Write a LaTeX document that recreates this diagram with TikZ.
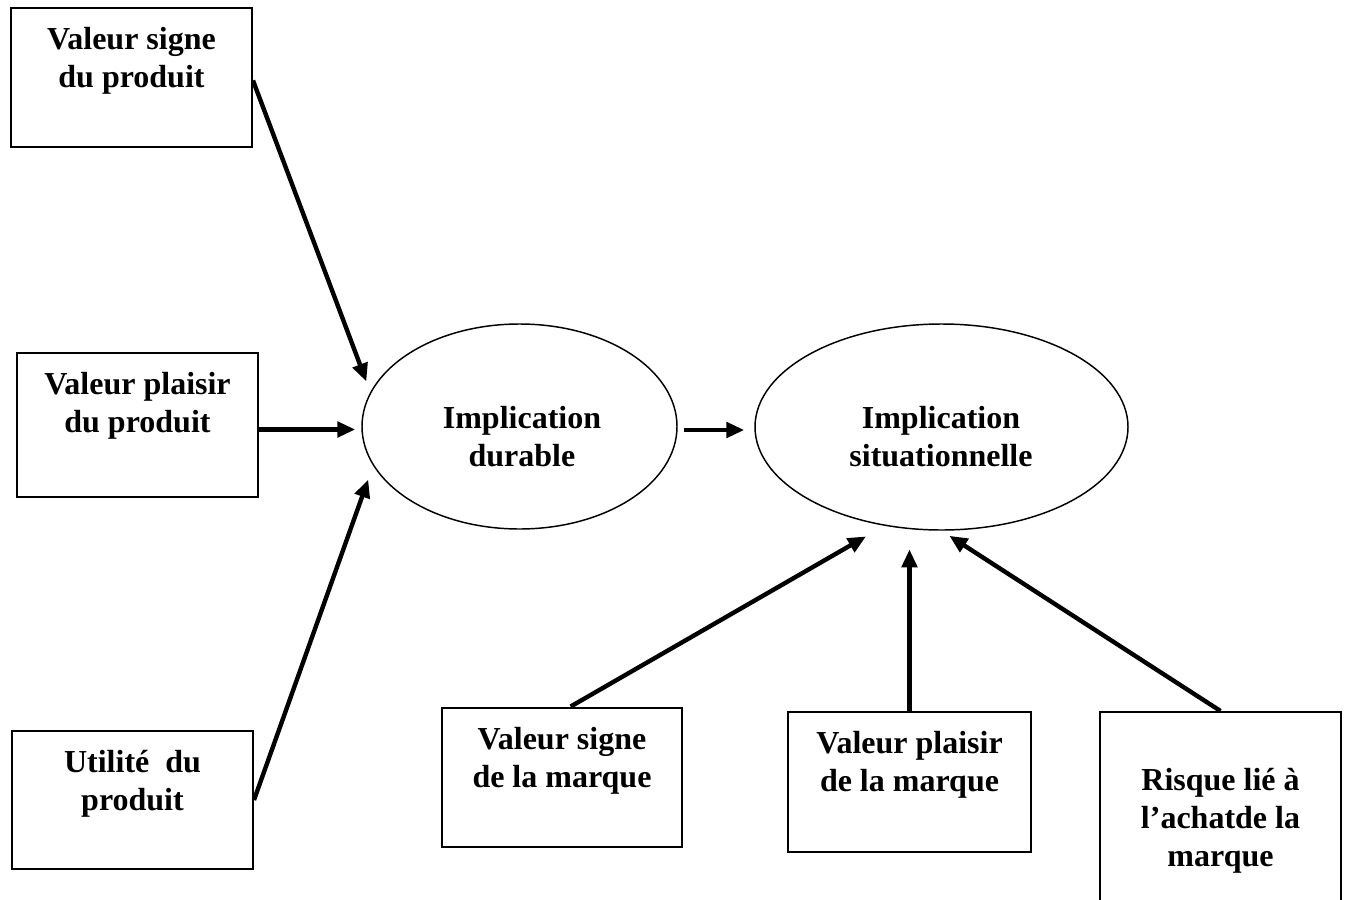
\documentclass[tikz,border=0pt]{standalone}
\usepackage{fontspec}
\setmainfont{Liberation Serif}
\usetikzlibrary{arrows.meta,calc,shapes.geometric}
\begin{document}
\begin{tikzpicture}[x=0.75pt,y=-0.75pt,
  box/.style={draw=black,line width=1.5pt,rectangle,inner sep=0pt},
  oval/.style={draw=black,line width=1.1pt,ellipse,inner sep=0pt},
  lbl/.style={font=\bfseries\fontsize{24}{28.5}\selectfont,align=center,inner sep=0pt},
  arr/.style={line width=3.3pt,-{Triangle[length=13.5pt,width=11.5pt]}}]
\useasboundingbox (0,0) rectangle (1348,899);
\fill[white] (0,0) rectangle (1348,899);
\clip (0,0) rectangle (1348,899);

% antecedent boxes
\node[box,minimum width=241*0.75pt,minimum height=139*0.75pt] (b1) at (131.5,77.5) {};
\node[box,minimum width=241*0.75pt,minimum height=144*0.75pt] (b2) at (137.5,425) {};
\node[box,minimum width=241*0.75pt,minimum height=138*0.75pt] (b3) at (132.5,800) {};
\node[box,minimum width=240*0.75pt,minimum height=139*0.75pt] (b4) at (562,777) {};
\node[box,minimum width=243*0.75pt,minimum height=139.5*0.75pt] (b5) at (909.5,781.75) {};
\node[box,minimum width=241*0.75pt,minimum height=218*0.75pt] (b6) at (1220.5,821) {};

% the two involvement constructs
\node[oval,minimum width=315*0.75pt,minimum height=205*0.75pt] (d) at (519.5,426.5) {};
\node[oval,minimum width=373*0.75pt,minimum height=206*0.75pt] (s) at (941.5,427) {};

% labels
\node[lbl] (t1) at (131.5,61) {Valeur signe\\du produit};
\node[lbl] (t2) at (137.5,406) {Valeur plaisir\\du produit};
\node[lbl] (t3) at (132.5,784) {Utilité~~du\\produit};
\node[lbl] (t4) at (562,761) {Valeur signe\\de la marque};
\node[lbl] (t5) at (909.5,765) {Valeur plaisir\\de la marque};
\node[lbl] (t6) at (1220.5,821) {Risque lié à\\l’achatde la\\marque};
\node[lbl] (td) at (522,437) {Implication\\durable};
\node[lbl] (ts) at (941,437) {Implication\\situationnelle};

% connectors
\draw[arr,shorten >=8.5pt] ($(b1.east)+(0,3)$) -- (d.167);
\draw[arr,shorten >=4.5pt] ($(b2.east)+(0,4.5)$) -- ($(d.west)+(0,3)$);
\draw[arr,shorten >=11pt] (b3.east) -- (d.195);
\draw[arr,shorten <=4.5pt,shorten >=7.5pt] ($(d.east)+(0,3.5)$) -- ($(s.west)+(0,3)$);
\draw[arr,shorten >=16pt] (b4.83) -- (s.240);
\draw[arr,shorten >=14pt] (b5.north) -- (b5.north |- s.south);
\draw[arr,shorten >=7pt] (b6.north) -- (s.south);
\end{tikzpicture}
\end{document}
